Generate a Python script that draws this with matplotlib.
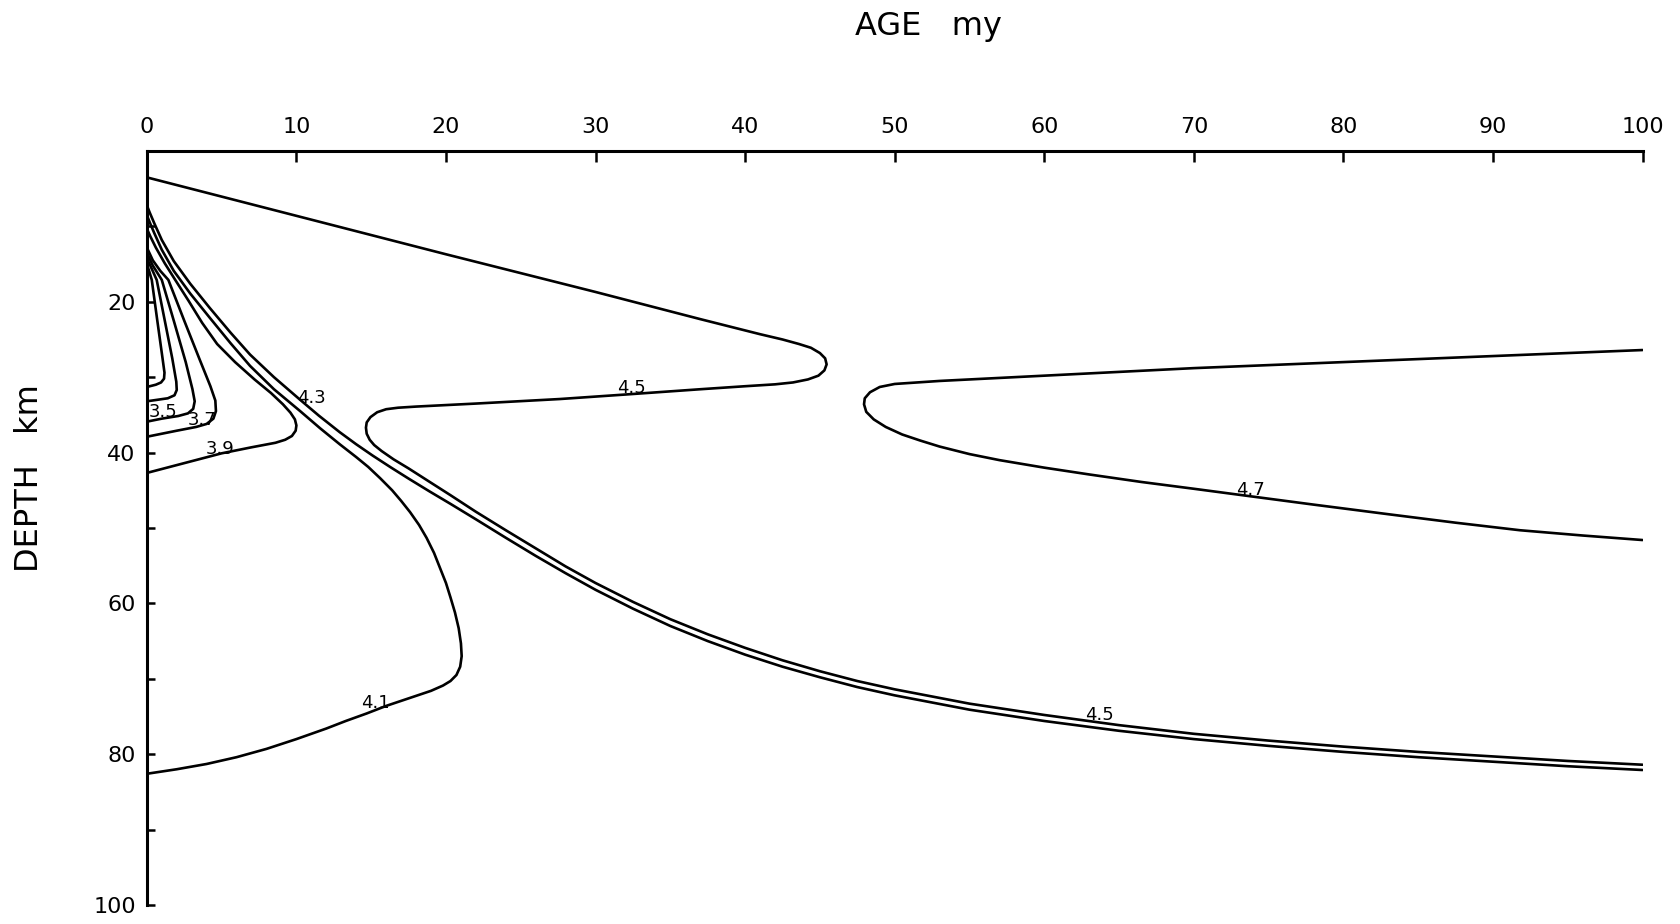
import matplotlib
matplotlib.use("Agg")
import matplotlib.pyplot as plt

# Shear-velocity contours (km/s) versus plate age and depth.
# Each contour is a list of (age_my, depth_km) points along the curve.
age_ticks = [0, 10, 20, 30, 40, 50, 60, 70, 80, 90, 100]
depth_ticks = [10, 20, 30, 40, 50, 60, 70, 80, 90, 100]
depth_labels = ["", "20", "", "40", "", "60", "", "80", "", "100"]

c31 = [(0, 15.0), (0.15, 15.9), (0.33, 17.1), (0.7, 22.5), (1.05, 27.5),
       (1.18, 29.4), (1.15, 30.2), (0.95, 30.7), (0.6, 31.0), (0, 31.3)]
c33 = [(0, 14.2), (0.3, 15.5), (0.66, 17.1), (1.2, 22.5), (1.7, 27.5),
       (1.97, 30.6), (2.0, 31.7), (1.85, 32.4), (1.4, 32.8), (0.7, 33.0),
       (0, 33.2)]
c35 = [(0, 13.5), (0.4, 15.2), (1.0, 17.1), (1.8, 22.5), (2.6, 28.0),
       (3.05, 31.6), (3.2, 33.2), (3.1, 34.2), (2.75, 34.8), (2.1, 35.15),
       (1.0, 35.5), (0, 35.9)]
c37 = [(0, 12.8), (0.4, 14.5), (0.9, 15.9), (1.44, 17.1), (2.5, 22.5),
       (3.5, 27.5), (4.25, 31.2), (4.58, 33.1), (4.62, 34.5), (4.45, 35.5),
       (4.0, 36.2), (3.3, 36.6), (2.0, 37.1), (0, 37.9)]
c39 = [(0, 10.3), (0.25, 11.4), (0.6, 12.8), (1.2, 14.9), (1.9, 17.1),
       (2.8, 19.9), (3.7, 22.8), (4.7, 25.6), (5.9, 28.0), (7.2, 30.3),
       (8.3, 32.1), (9.1, 33.6), (9.6, 34.7), (9.9, 35.6), (10.0, 36.4),
       (9.95, 37.1), (9.7, 37.8), (9.25, 38.3), (8.6, 38.7), (7.0, 39.3),
       (5.0, 40.1), (2.5, 41.4), (0, 42.7)]
c41 = [(0, 8.5), (0.2, 9.5), (0.5, 10.9), (1.0, 13.1), (1.8, 15.9),
       (2.9, 18.9), (4.2, 22.1), (5.6, 25.5), (6.9, 28.5), (8.5, 31.6),
       (10.25, 34.5), (11.6, 36.8), (12.9, 38.9), (14.0, 40.6), (14.8, 41.9),
       (15.6, 43.4), (16.4, 45.0), (17.0, 46.4), (17.6, 47.9), (18.2, 49.6),
       (18.7, 51.3), (19.2, 53.3), (19.6, 55.3), (20.0, 57.3), (20.3, 59.2),
       (20.6, 61.2), (20.85, 63.3), (21.0, 65.3), (21.05, 67.0), (20.95, 68.4),
       (20.7, 69.5), (20.3, 70.3), (19.8, 70.9), (19.0, 71.6), (17.5, 72.6),
       (16.0, 73.6), (14.7, 74.6), (13.3, 75.6), (12.0, 76.6), (10.0, 78.0),
       (8.0, 79.3), (6.0, 80.4), (4.0, 81.3), (2.0, 82.0), (0, 82.6)]
c43 = [(0, 7.2), (0.2, 8.2), (0.5, 9.6), (1.0, 11.8), (1.8, 14.6),
       (2.9, 17.6), (4.2, 20.8), (5.6, 24.1), (6.9, 27.0), (8.5, 30.0),
       (10.25, 33.0), (11.5, 35.1), (12.9, 37.3), (14.0, 38.9), (15.1, 40.4),
       (16.3, 41.95), (17.5, 43.45), (18.9, 45.15), (20.3, 46.8), (22.0, 48.85),
       (24, 51.3), (26, 53.7), (28, 56.0), (30, 58.2), (32.5, 60.7),
       (35, 63.0), (37.5, 65.0), (40, 66.8), (42.5, 68.4), (45, 69.8),
       (47.5, 71.1), (50, 72.2), (55, 74.1), (60, 75.6), (65, 76.9),
       (70, 78.0), (75, 78.9), (80, 79.7), (85, 80.4), (90, 81.0), (95, 81.6),
       (100, 82.1)]
c45 = [(0, 3.5), (10, 8.6), (20, 13.7), (30, 18.7), (37, 22.3), (41, 24.3),
       (42.5, 25.0), (43.6, 25.6), (44.4, 26.1), (45.0, 26.8), (45.35, 27.5),
       (45.45, 28.3), (45.3, 29.1), (44.9, 29.8), (44.2, 30.3), (43.2, 30.7),
       (42.0, 30.95), (40, 31.2), (37, 31.6), (32, 32.3), (27.6, 32.9),
       (22, 33.5), (18, 33.9), (16.8, 34.05), (16.0, 34.25), (15.4, 34.65),
       (14.95, 35.3), (14.7, 36.0), (14.65, 36.7), (14.7, 37.5), (14.9, 38.3),
       (15.2, 39.0), (15.7, 39.8), (16.5, 40.9), (17.5, 42.1), (18.8, 43.75),
       (20.3, 45.65), (22, 47.85), (24, 50.3), (26, 52.7), (28, 55.1),
       (30, 57.3), (32.5, 59.8), (35, 62.1), (37.5, 64.1), (40, 65.9),
       (42.5, 67.55), (45, 69.0), (47.5, 70.3), (50, 71.4), (55, 73.3),
       (60, 74.8), (65, 76.15), (70, 77.3), (75, 78.2), (80, 79.0), (85, 79.7),
       (90, 80.3), (95, 80.9), (100, 81.4)]
c47 = [(100, 26.4), (95, 26.8), (90, 27.2), (85, 27.6), (80, 28.0),
       (75, 28.4), (70, 28.8), (65, 29.3), (60, 29.8), (57, 30.1), (53, 30.5),
       (51.5, 30.7), (50, 30.9), (49.0, 31.3), (48.35, 32.0), (48.0, 32.8),
       (47.95, 33.6), (48.1, 34.6), (48.6, 35.6), (49.4, 36.6), (50.5, 37.6),
       (51.7, 38.4), (53, 39.2), (55, 40.2), (57, 41.0), (60, 42.0),
       (63, 42.9), (66.5, 43.9), (70, 44.8), (73.8, 45.8), (78, 46.9),
       (83.1, 48.2), (87.5, 49.3), (91.8, 50.3), (96, 51.0), (100, 51.6)]

contours = [c31, c33, c35, c37, c39, c41, c43, c45, c47]

# Contour labels: (text, age, depth)
labels = [("3.5", 1.1, 34.6), ("3.7", 3.7, 35.7), ("3.9", 4.9, 39.5),
          ("4.1", 15.3, 73.2), ("4.3", 11.0, 32.7), ("4.5", 32.4, 31.5),
          ("4.5", 63.7, 74.8), ("4.7", 73.8, 45.0)]

fig = plt.figure(figsize=(16.8, 9.24), dpi=100)
ax = fig.add_axes([0.0874, 0.0206, 0.8903, 0.8160])

for c in contours:
    xs = [p[0] for p in c]
    ys = [p[1] for p in c]
    ax.plot(xs, ys, color="black", lw=1.9, solid_capstyle="round",
            solid_joinstyle="round")

for text, x, y in labels:
    ax.text(x, y, text, fontsize=13, ha="center", va="center", color="black")

ax.set_xlim(0, 100)
ax.set_ylim(100, 0)

ax.xaxis.tick_top()
ax.set_xticks(age_ticks)
ax.set_xticklabels([str(v) for v in age_ticks], fontsize=16)
ax.set_yticks(depth_ticks)
ax.set_yticklabels(depth_labels, fontsize=16)
ax.tick_params(axis="x", direction="in", length=8, width=1.8, pad=10)
ax.tick_params(axis="y", direction="in", length=6, width=1.8, pad=8)

for side in ("bottom", "right"):
    ax.spines[side].set_visible(False)
ax.spines["top"].set_linewidth(2.2)
ax.spines["left"].set_linewidth(2.2)

fig.text(928 / 1680, 1 - 27 / 924, "AGE   my", fontsize=23, ha="center",
         va="center")
fig.text(30 / 1680, 1 - 478 / 924, "DEPTH   km", fontsize=23, ha="center",
         va="center", rotation=90)

fig.savefig("out.png", dpi=100, facecolor="white")
